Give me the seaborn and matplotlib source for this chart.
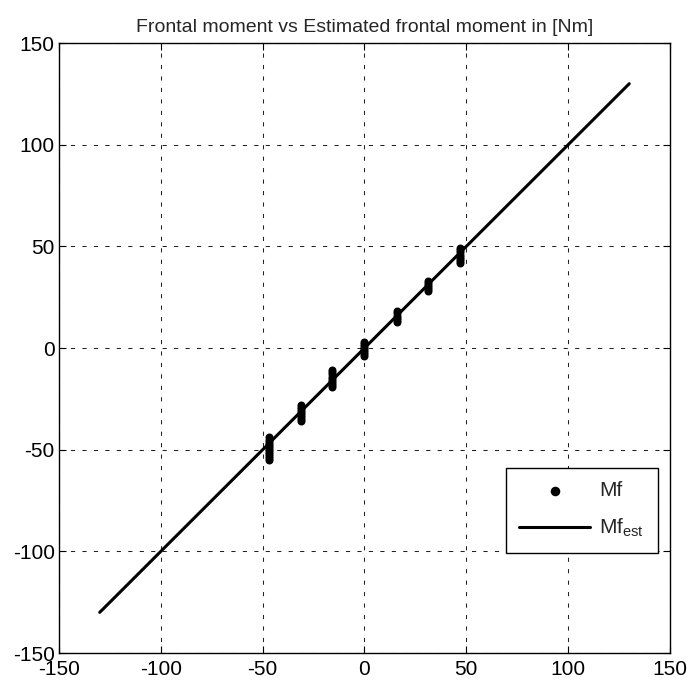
import numpy as np
import pandas as pd
import matplotlib
matplotlib.use("Agg")
import matplotlib.pyplot as plt
import seaborn as sns

# measured points: x-position levels and the Mf values at each
mf_x_levels = [-47, -31, -16, 0, 16, 31, 47]
mf_y_values = [
    [-55, -54, -53, -52, -51, -50, -49, -48, -47, -46, -45, -44],
    [-36, -35, -34, -33, -32, -31, -30, -29, -28],
    [-19, -18, -17, -16, -15, -14, -13, -12, -11],
    [-4, -3, -2, -1, 0, 1, 2, 3],
    [13, 14, 15, 16, 17, 18],
    [28, 29, 30, 31, 32, 33],
    [42, 43, 44, 45, 46, 47, 48, 49],
]
est_x = [-130, 130]
est_y = [-130, 130]

xticks = [-150, -100, -50, 0, 50, 100, 150]
yticks = [-150, -100, -50, 0, 50, 100, 150]

rows = []
for xv, ys in zip(mf_x_levels, mf_y_values):
    for yv in ys:
        rows.append((xv, yv))
df_pts = pd.DataFrame(rows, columns=["x", "y"])
df_line = pd.DataFrame({"x": est_x, "y": est_y})

sns.set_style("white")
plt.rcParams['font.family'] = ['Liberation Sans', 'DejaVu Sans']

fig = plt.figure(figsize=(6.94, 6.90), dpi=100)
ax = fig.add_axes([0.085, 0.0536, 0.8804, 0.884])

sns.scatterplot(data=df_pts, x="x", y="y", ax=ax, color="black", s=33,
                edgecolor="black", linewidth=0, label="Mf", zorder=3)
sns.lineplot(data=df_line, x="x", y="y", ax=ax, color="black", linewidth=2.2,
             label="Mf$_{\\mathregular{est}}$", zorder=4)

ax.set_xlim(-150, 150)
ax.set_ylim(-150, 150)
ax.set_xticks(xticks)
ax.set_yticks(yticks)
ax.set_xticklabels([str(t) for t in xticks], fontsize=15)
ax.set_yticklabels([str(t) for t in yticks], fontsize=15)
ax.set_xlabel("")
ax.set_ylabel("")
ax.grid(True, linestyle=(0, (4, 7)), color="#222222", linewidth=0.75)
ax.tick_params(axis="x", pad=5)
ax.tick_params(axis="y", pad=3)
ax.tick_params(direction="in", length=5, width=0.8, colors="black",
               top=True, right=True, bottom=True, left=True)
for s in ax.spines.values():
    s.set_color("black")
    s.set_linewidth(1.0)
ax.set_title("Frontal moment vs Estimated frontal moment in [Nm]", fontsize=14, pad=8)

leg = ax.legend(loc="lower right", bbox_to_anchor=(0.98, 0.164), borderaxespad=0,
                fontsize=15, frameon=True, fancybox=False, edgecolor="black",
                framealpha=1, handlelength=3.4, handletextpad=0.45,
                borderpad=0.65, labelspacing=0.8, markerscale=1.2)
leg.get_frame().set_linewidth(1.0)

fig.savefig("out.png", dpi=100)
